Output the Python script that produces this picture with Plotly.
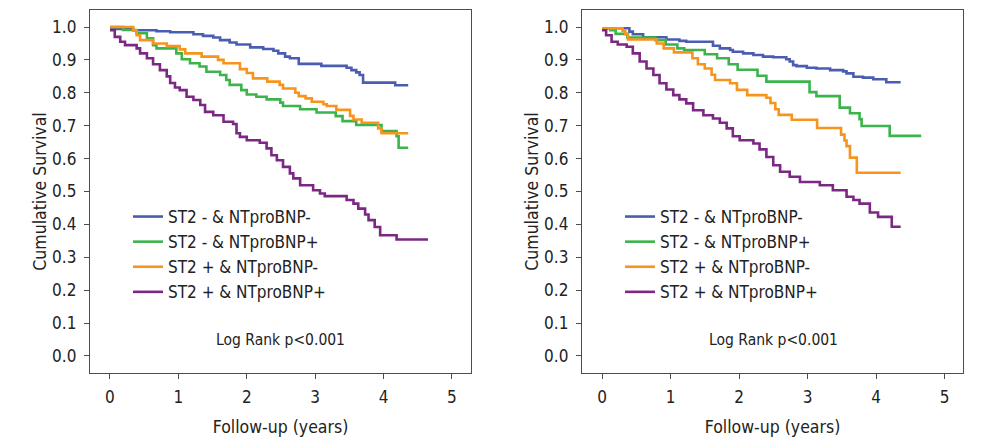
import plotly.graph_objects as go

# ---------------- data (years, cumulative survival) ----------------
series_names = ["ST2 - & NTproBNP-", "ST2 - & NTproBNP+", "ST2 + & NTproBNP-", "ST2 + & NTproBNP+"]
colors = ["#4a5db0", "#3cb44b", "#f7941d", "#7b2783"]

# Left panel
L_blue_t = [0, 0.34, 0.68, 0.88, 1.22, 1.36, 1.51, 1.61, 1.75, 1.85, 2.05, 2.24, 2.39, 2.46, 2.56, 2.63, 2.76, 3.09, 3.46, 3.53, 3.60, 3.65, 3.70, 4.17, 4.36]
L_blue_s = [0.994, 0.990, 0.987, 0.984, 0.978, 0.973, 0.968, 0.960, 0.953, 0.947, 0.938, 0.933, 0.928, 0.920, 0.910, 0.905, 0.888, 0.882, 0.876, 0.869, 0.862, 0.854, 0.831, 0.823, 0.823]

L_green_t = [0, 0.19, 0.39, 0.54, 0.63, 0.68, 0.97, 1.05, 1.17, 1.31, 1.41, 1.61, 1.70, 1.75, 1.92, 2.00, 2.14, 2.29, 2.49, 2.53, 2.78, 3.02, 3.30, 3.40, 3.60, 3.97, 4.19, 4.22, 4.36]
L_green_s = [1.0, 0.991, 0.981, 0.966, 0.945, 0.935, 0.920, 0.902, 0.890, 0.880, 0.864, 0.854, 0.839, 0.824, 0.808, 0.795, 0.788, 0.780, 0.770, 0.760, 0.750, 0.740, 0.729, 0.714, 0.702, 0.684, 0.668, 0.633, 0.633]

L_orange_t = [0, 0.34, 0.39, 0.44, 0.63, 0.83, 1.02, 1.10, 1.34, 1.58, 1.66, 1.90, 2.00, 2.09, 2.30, 2.48, 2.53, 2.71, 2.76, 2.86, 2.95, 3.12, 3.17, 3.31, 3.51, 3.56, 3.68, 3.92, 3.97, 4.36]
L_orange_s = [1.0, 0.990, 0.975, 0.960, 0.950, 0.942, 0.932, 0.920, 0.910, 0.900, 0.890, 0.872, 0.860, 0.844, 0.834, 0.824, 0.813, 0.800, 0.790, 0.783, 0.773, 0.765, 0.760, 0.748, 0.730, 0.719, 0.709, 0.692, 0.677, 0.677]

L_purple_t = [0, 0.07, 0.15, 0.22, 0.39, 0.44, 0.54, 0.63, 0.73, 0.83, 0.88, 0.95, 1.02, 1.12, 1.22, 1.32, 1.39, 1.51, 1.66, 1.80, 1.85, 1.90, 2.00, 2.19, 2.29, 2.36, 2.44, 2.53, 2.63, 2.68, 2.78, 2.97, 3.07, 3.14, 3.46, 3.56, 3.63, 3.73, 3.78, 3.87, 3.95, 4.19, 4.65]
L_purple_s = [0.990, 0.970, 0.955, 0.945, 0.935, 0.920, 0.905, 0.887, 0.869, 0.850, 0.830, 0.816, 0.808, 0.788, 0.778, 0.763, 0.742, 0.732, 0.712, 0.705, 0.677, 0.666, 0.656, 0.648, 0.631, 0.610, 0.595, 0.575, 0.555, 0.540, 0.519, 0.504, 0.494, 0.486, 0.474, 0.463, 0.448, 0.430, 0.413, 0.392, 0.367, 0.354, 0.354]

# Right panel
R_blue_t = [0, 0.40, 0.45, 0.60, 0.94, 1.13, 1.23, 1.62, 1.72, 1.87, 1.91, 2.06, 2.21, 2.35, 2.50, 2.69, 2.74, 2.79, 2.84, 2.99, 3.13, 3.33, 3.52, 3.57, 3.67, 3.81, 3.96, 4.15, 4.36]
R_blue_s = [0.996, 0.986, 0.978, 0.969, 0.962, 0.958, 0.955, 0.943, 0.935, 0.930, 0.925, 0.920, 0.915, 0.910, 0.908, 0.902, 0.895, 0.884, 0.881, 0.876, 0.874, 0.869, 0.865, 0.859, 0.849, 0.846, 0.841, 0.832, 0.832]

R_green_t = [0, 0.12, 0.20, 0.37, 0.78, 0.93, 1.10, 1.20, 1.50, 1.68, 1.85, 1.98, 2.27, 2.40, 3.03, 3.13, 3.47, 3.62, 3.76, 3.79, 4.20, 4.66]
R_green_s = [0.996, 0.990, 0.979, 0.968, 0.960, 0.947, 0.935, 0.930, 0.917, 0.905, 0.887, 0.870, 0.852, 0.834, 0.802, 0.790, 0.755, 0.738, 0.720, 0.699, 0.669, 0.669]

R_orange_t = [0, 0.30, 0.34, 0.38, 0.80, 0.90, 1.05, 1.32, 1.40, 1.50, 1.60, 1.65, 1.87, 1.97, 2.12, 2.40, 2.46, 2.53, 2.58, 2.77, 3.14, 3.49, 3.54, 3.57, 3.62, 3.72, 4.36]
R_orange_s = [0.996, 0.988, 0.978, 0.962, 0.950, 0.935, 0.923, 0.905, 0.887, 0.874, 0.855, 0.839, 0.829, 0.809, 0.793, 0.785, 0.769, 0.750, 0.733, 0.718, 0.693, 0.673, 0.655, 0.638, 0.603, 0.557, 0.557]

R_purple_t = [0, 0.06, 0.14, 0.23, 0.36, 0.45, 0.55, 0.65, 0.75, 0.84, 0.94, 1.04, 1.13, 1.23, 1.33, 1.48, 1.62, 1.72, 1.82, 1.91, 2.01, 2.21, 2.30, 2.40, 2.50, 2.60, 2.74, 2.89, 3.18, 3.37, 3.57, 3.67, 3.76, 3.91, 4.03, 4.23, 4.36]
R_purple_s = [0.990, 0.975, 0.955, 0.947, 0.940, 0.920, 0.895, 0.874, 0.854, 0.829, 0.810, 0.793, 0.780, 0.768, 0.747, 0.732, 0.722, 0.709, 0.692, 0.668, 0.656, 0.646, 0.628, 0.605, 0.580, 0.560, 0.545, 0.529, 0.519, 0.504, 0.484, 0.474, 0.463, 0.436, 0.423, 0.393, 0.393]

y_ticks = [0.0, 0.1, 0.2, 0.3, 0.4, 0.5, 0.6, 0.7, 0.8, 0.9, 1.0]
x_ticks = [0, 1, 2, 3, 4, 5]
x_title = "Follow-up (years)"
y_title = "Cumulative Survival"
note_text = "Log Rank p<0.001"

left = [(L_blue_t, L_blue_s), (L_green_t, L_green_s), (L_orange_t, L_orange_s), (L_purple_t, L_purple_s)]
right = [(R_blue_t, R_blue_s), (R_green_t, R_green_s), (R_orange_t, R_orange_s), (R_purple_t, R_purple_s)]

FONT = "DejaVu Sans Condensed, Liberation Sans Narrow, sans-serif"
W, H = 970, 430   # page adds an 8px body margin

fig = go.Figure()
for panel, data, xa, ya, lg in [(0, left, "x", "y", "legend"), (1, right, "x2", "y2", "legend2")]:
    for i, (t, s) in enumerate(data):
        fig.add_trace(go.Scatter(
            x=t, y=s, mode="lines", line=dict(color=colors[i], width=2.6, shape="hv"),
            name=series_names[i], xaxis=xa, yaxis=ya, legend=lg, hoverinfo="skip"))

ax_common = dict(showline=True, mirror=True, linecolor="#4d4d4d", linewidth=1.3,
                 ticks="outside", ticklen=5, tickcolor="#4d4d4d", showgrid=False, zeroline=False,
                 automargin=False,
                 tickfont=dict(family=FONT, size=17, color="#222222"))
ydom = [1 - 365 / H, 1 - 2 / H]
title_font = dict(family=FONT, size=17.5, color="#222222")
leg_font = dict(family=FONT, size=17, color="#222222")
note_font = dict(family=FONT, size=15.5, color="#222222")

fig.update_layout(
    width=W, height=H, margin=dict(l=0, r=0, t=0, b=0, pad=0, autoexpand=False),
    paper_bgcolor="white", plot_bgcolor="white",
    font=dict(family=FONT, color="#222222"),
    xaxis=dict(domain=[82 / W, 463 / W], range=[-0.292, 5.278], tickvals=x_ticks, anchor="y",
               ticklabelstandoff=3,
               title=dict(text=x_title, font=title_font, standoff=15), **ax_common),
    yaxis=dict(domain=ydom, range=[-0.0517, 1.0517], tickvals=y_ticks, tickformat=".1f", anchor="x",
               ticklabelstandoff=4,
               title=dict(text=y_title, font=title_font, standoff=0), **ax_common),
    xaxis2=dict(domain=[574 / W, 955 / W], range=[-0.292, 5.27], tickvals=x_ticks, anchor="y2",
                ticklabelstandoff=3,
                title=dict(text=x_title, font=title_font, standoff=15), **ax_common),
    yaxis2=dict(domain=ydom, range=[-0.0517, 1.0517], tickvals=y_ticks, tickformat=".1f", anchor="x2",
                ticklabelstandoff=4,
                title=dict(text=y_title, font=title_font, standoff=0), **ax_common),
    legend=dict(x=120 / W, y=1 - 191 / H, xanchor="left", yanchor="top", bgcolor="rgba(0,0,0,0)",
                font=leg_font, tracegroupgap=0, itemwidth=30),
    legend2=dict(x=612 / W, y=1 - 191 / H, xanchor="left", yanchor="top", bgcolor="rgba(0,0,0,0)",
                 font=leg_font, tracegroupgap=0, itemwidth=30),
    showlegend=True,
)

fig.add_annotation(x=2.5, y=0.05, xref="x", yref="y", text=note_text, showarrow=False,
                   font=note_font)
fig.add_annotation(x=2.5, y=0.05, xref="x2", yref="y2", text=note_text, showarrow=False,
                   font=note_font)

fig.write_html("out.html")
